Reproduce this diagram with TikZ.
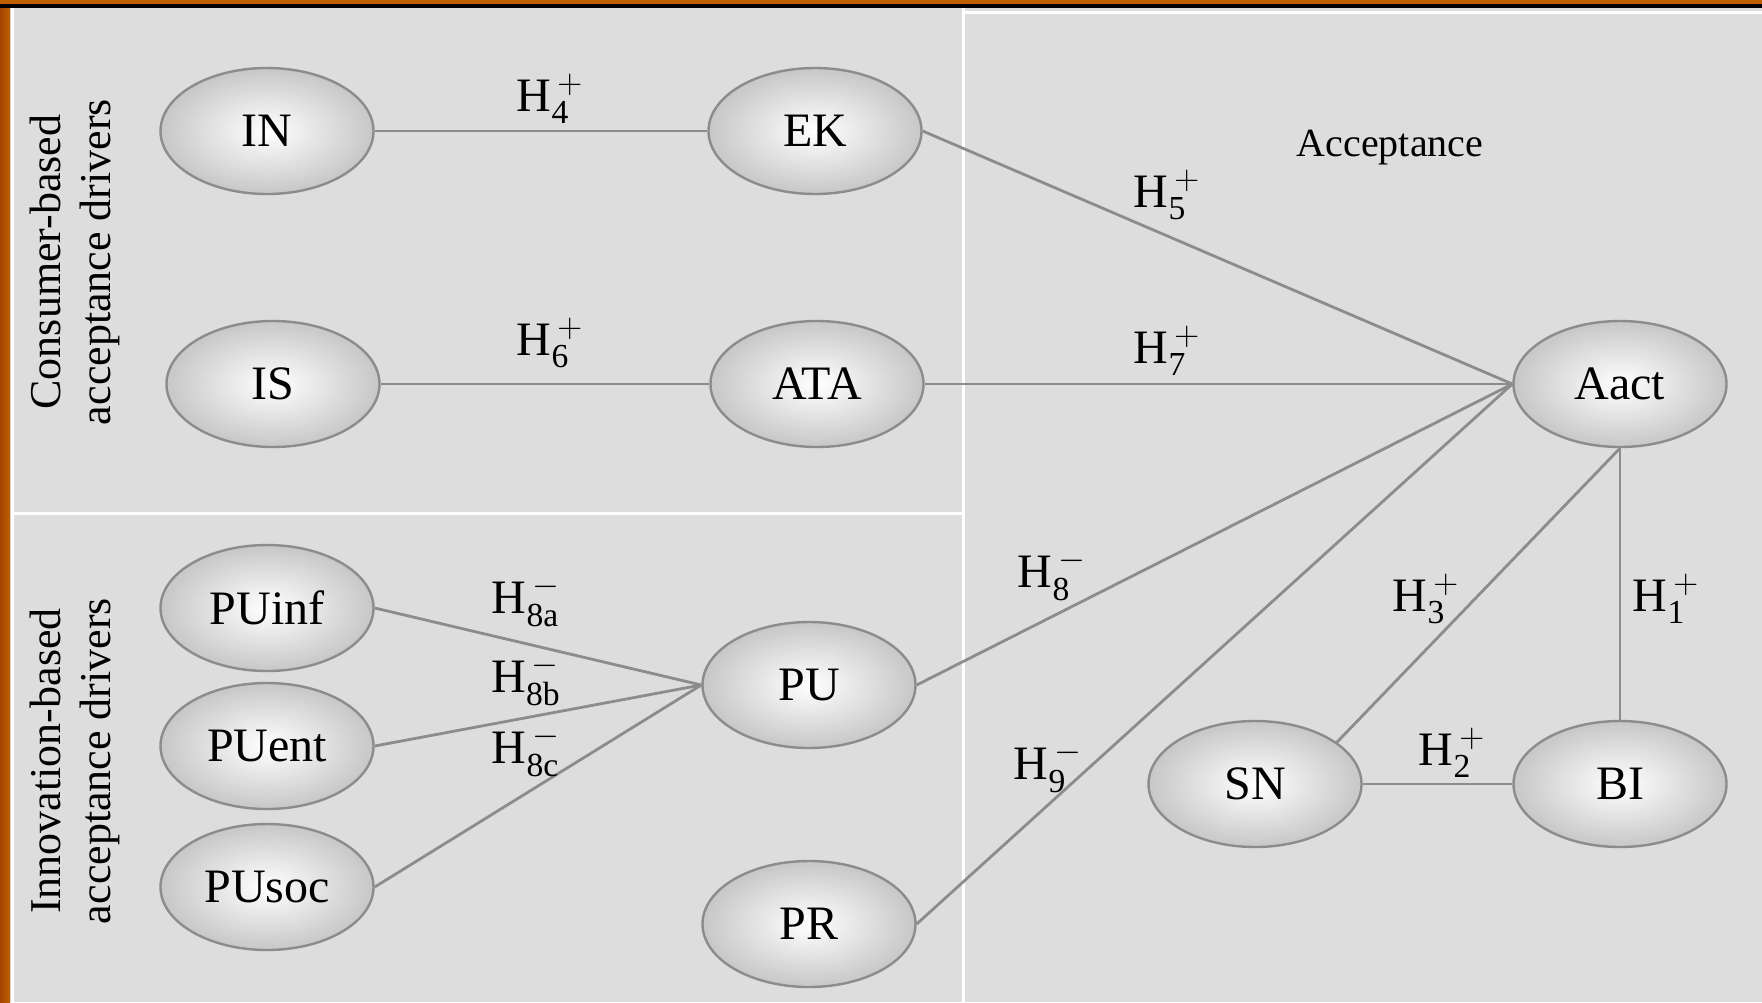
\documentclass[tikz,border=0pt]{standalone}
\usepackage{fontspec}
\setmainfont{Liberation Serif}
\usetikzlibrary{shapes.geometric}
\definecolor{bgc}{RGB}{221,221,221}
\definecolor{linec}{RGB}{140,140,140}
\definecolor{ellc}{RGB}{140,140,140}
\definecolor{orA}{RGB}{190,95,0}
\definecolor{orB}{RGB}{165,65,0}
\newcommand{\hlab}[2]{H$_{\mathrm{#1}}^{\,#2}$}
\tikzset{
  ell/.style={ellipse, draw=ellc, line width=1.2pt, inner color=white, outer color=black!22,
    minimum width=106.5pt, minimum height=63pt, inner sep=0pt,
    font=\fontsize{24pt}{28pt}\selectfont},
  conn/.style={draw=linec, line width=1.4pt},
  hl/.style={font=\fontsize{24pt}{28pt}\selectfont, inner sep=0pt},
  side/.style={rotate=90, align=center, font=\fontsize{22pt}{25pt}\selectfont, inner sep=0pt},
  divider/.style={draw=white, line width=1.5pt}
}
\begin{document}
\begin{tikzpicture}[x=0.5pt,y=-0.5pt]
\useasboundingbox (0,0) rectangle (1762,1002);
\fill[bgc] (0,0) rectangle (1762,1002);
\shade[left color=orB, right color=orA] (0,0) rectangle (10,1002);
\fill[orA] (0,0) rectangle (1762,4);
\fill[black] (0,4) rectangle (1762,8);
\draw[divider] (12,8) -- (12,1002);
\draw[divider] (963,8) -- (963,1002);
\draw[divider] (12,513) -- (963,513);
\draw[divider] (963,12) -- (1762,12);

\node[ell] (IN) at (267,131) {IN};
\node[ell] (EK) at (815,131) {EK};
\node[ell] (IS) at (273,384) {IS};
\node[ell] (ATA) at (817,384) {ATA};
\node[ell] (Aact) at (1620,384) {Aact};
\node[ell] (PUinf) at (267,608) {PUinf};
\node[ell] (PUent) at (267,746) {PUent};
\node[ell] (PUsoc) at (267,887) {PUsoc};
\node[ell] (PU) at (809,685) {PU};
\node[ell] (PR) at (809,924) {PR};
\node[ell] (SN) at (1255,784) {SN};
\node[ell] (BI) at (1620,784) {BI};

\draw[conn] (IN.east) -- (EK.west);
\draw[conn] (IS.east) -- (ATA.west);
\draw[conn] (EK.east) -- (Aact.west);
\draw[conn] (ATA.east) -- (Aact.west);
\draw[conn] (PU.east) -- (Aact.west);
\draw[conn] (PR.east) -- (Aact.west);
\draw[conn] (PUinf.east) -- (PU.west);
\draw[conn] (PUent.east) -- (PU.west);
\draw[conn] (PUsoc.east) -- (PU.west);
\draw[conn] (SN.27) -- (Aact.south);
\draw[conn] (Aact.south) -- (BI.north);
\draw[conn] (SN.east) -- (BI.west);

\node[hl] (l4) at (550,99) {\hlab{4}{+}};
\node[hl] (l6) at (550,343) {\hlab{6}{+}};
\node[hl] (l5) at (1167,195) {\hlab{5}{+}};
\node[hl] (l7) at (1167,351) {\hlab{7}{+}};
\node[hl] (l8a) at (526,601) {\hlab{8a}{-}};
\node[hl] (l8b) at (526,680) {\hlab{8b}{-}};
\node[hl] (l8c) at (526,751) {\hlab{8c}{-}};
\node[hl] (l8) at (1052,575) {\hlab{8}{-}};
\node[hl] (l9) at (1048,767) {\hlab{9}{-}};
\node[hl] (l3) at (1426,599) {\hlab{3}{+}};
\node[hl] (l1) at (1666,599) {\hlab{1}{+}};
\node[hl] (l2) at (1452,753) {\hlab{2}{+}};
\node[font=\fontsize{20pt}{24pt}\selectfont] (acc) at (1390,148) {Acceptance};

\node[side] (cons) at (75,262) {Consumer-based\\acceptance drivers};
\node[side] (inno) at (75,761) {Innovation-based\\acceptance drivers};
\end{tikzpicture}
\end{document}
